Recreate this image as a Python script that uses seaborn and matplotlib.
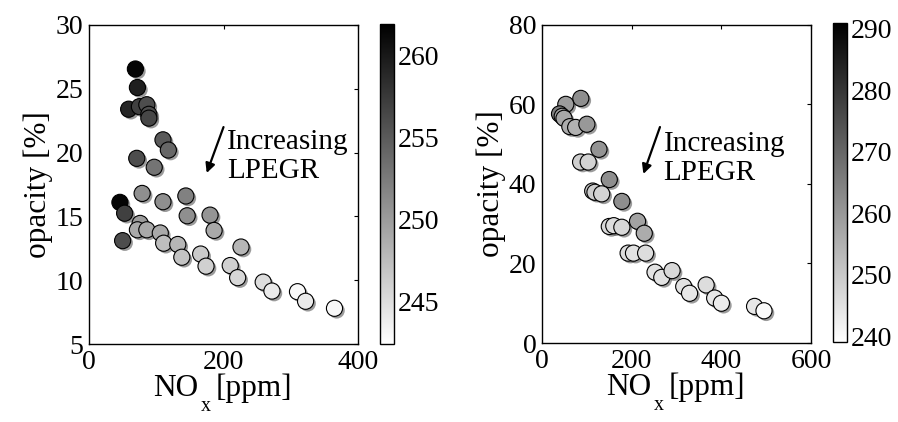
import matplotlib
matplotlib.use("Agg")
import matplotlib.pyplot as plt
import matplotlib.patheffects as pe
from matplotlib.cm import ScalarMappable
from matplotlib.colors import Normalize
import numpy as np
import pandas as pd
import seaborn as sns

# ---- data: left panel ----
left_nox = [69, 72, 59, 75, 86, 89, 89, 110, 118, 71, 97, 79, 110, 144, 46, 53, 146, 180,
            186, 76, 72, 86, 106, 111, 50, 132, 138, 166, 174, 226, 210, 221, 259, 272,
            310, 322, 365]
left_opacity = [26.55, 25.1, 23.4, 23.6, 23.75, 23.0, 22.7, 21.0, 20.2, 19.55, 18.85, 16.8,
                16.15, 16.6, 16.1, 15.25, 15.05, 15.1, 13.9, 14.45, 13.95, 13.95, 13.7, 12.9,
                13.1, 12.8, 11.8, 12.05, 11.1, 12.6, 11.15, 10.2, 9.85, 9.15, 9.1, 8.35, 7.8]
left_lpegr = [261.5, 259.5, 259, 257, 256, 256, 256.5, 255, 254, 256, 253, 251, 251, 252,
              261.5, 257, 251, 250.5, 249, 250, 249, 249, 249, 247.5, 256, 248, 247, 246.5,
              246, 248, 246, 245.5, 245, 244, 243, 244, 243]

# ---- data: right panel ----
right_nox = [86.5, 53, 39, 45, 49, 62, 75, 100, 127, 86, 103, 150, 113, 118, 133, 178, 150,
             160, 178, 213, 228, 192, 204, 231, 252, 267, 290, 316, 329, 366, 385, 400, 474, 495]
right_opacity = [61.5, 60.0, 57.6, 57.0, 56.5, 54.4, 54.2, 55.0, 48.7, 45.5, 45.5, 41.1, 38.2,
                 37.9, 37.5, 35.6, 29.3, 29.5, 29.1, 30.6, 27.6, 22.6, 22.6, 22.6, 17.8, 16.5,
                 18.2, 14.2, 12.5, 14.6, 11.3, 10.0, 9.2, 8.1]
right_lpegr = [262, 259, 265, 258, 257, 256, 255, 260, 261, 249, 248, 262, 250, 249, 248, 262,
               247, 246, 247, 258, 256, 246, 245, 246, 245, 245, 247, 245, 244, 246, 244, 243,
               244, 240]

left_cticks = [245, 250, 255, 260]
right_cticks = [240, 250, 260, 270, 280, 290]

sns.set_style("white")
plt.rcParams['font.family'] = ['Liberation Serif', 'DejaVu Serif']
plt.rcParams['text.color'] = 'black'
plt.rcParams['axes.labelcolor'] = 'black'
plt.rcParams['xtick.color'] = 'black'
plt.rcParams['ytick.color'] = 'black'
FS = 20      # tick labels
FL = 22.5    # axis labels
FA = 21      # annotation

fig = plt.figure(figsize=(8.98, 4.22), dpi=100)
ax1 = fig.add_axes([0.0991, 0.1848, 0.2996, 0.756])
cax1 = fig.add_axes([0.4232, 0.1848, 0.0156, 0.758])
ax2 = fig.add_axes([0.6036, 0.1872, 0.2996, 0.754])
cax2 = fig.add_axes([0.9276, 0.1884, 0.0156, 0.758])

cmap = "gray_r"

def nox_label(ax):
    # "NO" + small lowered subscript "x" + "[ppm]", centred under the axes
    trans = ax.transAxes
    base = -37.5  # baseline offset below the axes bottom, in points
    ax.annotate("NO", xy=(0.5, 0), xycoords=trans, xytext=(-18.5, base), textcoords="offset points",
                fontsize=FL, ha="right", va="baseline")
    ax.annotate("x", xy=(0.5, 0), xycoords=trans, xytext=(-16.5, base - 11), textcoords="offset points",
                fontsize=FL * 0.64, ha="left", va="baseline")
    ax.annotate("[ppm]", xy=(0.5, 0), xycoords=trans, xytext=(-5.5, base), textcoords="offset points",
                fontsize=FL, ha="left", va="baseline")

def panel(ax, cax, x, y, c, vmin, vmax, xlim, ylim, xticks, yticks, cticks, txt_xy, arr_from, arr_to):
    df = pd.DataFrame({"x": x, "y": y, "c": c})
    sns.scatterplot(data=df, x="x", y="y", hue="c", palette=cmap, hue_norm=(vmin, vmax),
                    s=135, edgecolor="black", linewidth=0.8, legend=False, ax=ax, zorder=3)
    coll = ax.collections[-1]
    coll.set_path_effects([pe.SimplePatchShadow(offset=(1.6, -1.6), shadow_rgbFace="0.35", alpha=0.6),
                           pe.Normal()])
    ax.set_xlim(*xlim)
    ax.set_ylim(*ylim)
    ax.set_xticks(xticks)
    ax.set_yticks(yticks)
    ax.set_xlabel("")
    nox_label(ax)
    ax.set_ylabel("opacity [%]", fontsize=FL, labelpad=2)
    ax.tick_params(direction="in", length=3, width=0.8, top=True, right=True,
                   labelsize=FS, pad=4, colors="black")
    for sp in ax.spines.values():
        sp.set_visible(True)
        sp.set_color("black")
        sp.set_linewidth(1.0)
    ax.text(txt_xy[0], txt_xy[1], "Increasing\nLPEGR", fontsize=FA, ha="left", va="center",
            linespacing=1.15)
    ax.annotate("", xy=arr_to, xytext=arr_from,
                arrowprops=dict(arrowstyle="-|>", color="black", lw=1.6, mutation_scale=14,
                                shrinkA=0, shrinkB=0))
    sm = ScalarMappable(norm=Normalize(vmin, vmax), cmap=cmap)
    cb = fig.colorbar(sm, cax=cax)
    cb.set_ticks(cticks)
    cb.ax.tick_params(direction="in", length=3, width=0.8, labelsize=FS, pad=3, left=True, right=True,
                      colors="black")
    cb.outline.set_edgecolor("black")
    cb.outline.set_linewidth(1.0)

panel(ax1, cax1, left_nox, left_opacity, left_lpegr, 242.4, 261.9, (0, 400), (5, 30),
      [0, 200, 400], [5, 10, 15, 20, 25, 30], left_cticks,
      (205, 19.7), (200, 22.0), (175, 18.4))
panel(ax2, cax2, right_nox, right_opacity, right_lpegr, 239, 291, (0, 600), (0, 80),
      [0, 200, 400, 600], [0, 20, 40, 60, 80], right_cticks,
      (271, 46.5), (263, 54.3), (226, 42.5))

fig.savefig("out.png", dpi=100)
